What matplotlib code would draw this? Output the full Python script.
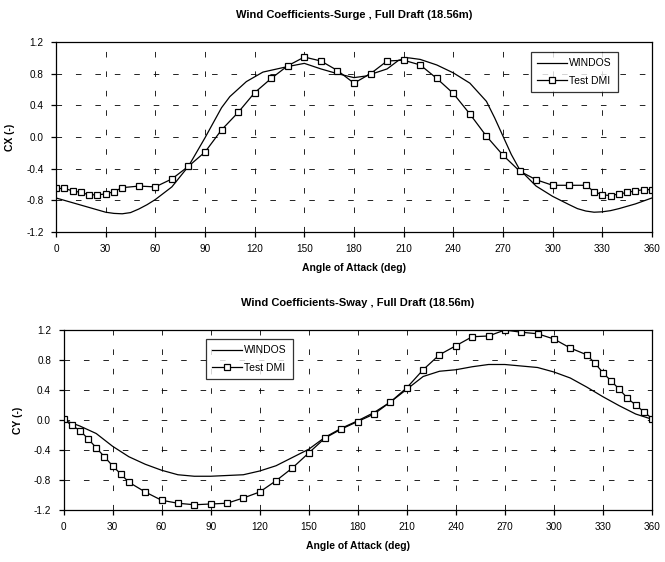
import numpy as np
import matplotlib
matplotlib.use('Agg')
import matplotlib.pyplot as plt

plt.rcParams['font.family'] = ['Liberation Sans', 'DejaVu Sans']
plt.rcParams['lines.scale_dashes'] = False

# Surge (CX)
windos_x_ang = [0, 10, 20, 30, 35, 40, 45, 50, 55, 60, 70, 80, 90, 100, 105, 115, 125, 140, 150, 160, 170,
                180, 187, 200, 207, 213, 220, 230, 240, 250, 260, 265, 270, 275, 280, 290, 300, 310, 315,
                320, 325, 330, 335, 340, 350, 360]
windos_x = [-0.77, -0.83, -0.89, -0.95, -0.965, -0.97, -0.955, -0.91, -0.855, -0.79, -0.63, -0.37, -0.01,
            0.37, 0.51, 0.70, 0.82, 0.89, 0.93, 0.86, 0.80, 0.75, 0.77, 0.86, 0.97, 1.00, 0.98, 0.91, 0.81,
            0.68, 0.45, 0.24, 0.01, -0.22, -0.41, -0.62, -0.75, -0.855, -0.905, -0.935, -0.95, -0.945,
            -0.93, -0.905, -0.845, -0.77]

dmi_ang = [0, 5, 10, 15, 20, 25, 30, 35, 40, 50, 60, 70, 80, 90, 100, 110, 120, 130, 140, 150, 160, 170,
           180, 190, 200, 210, 220, 230, 240, 250, 260, 270, 280, 290, 300, 310, 320, 325, 330, 335, 340,
           345, 350, 355, 360]
dmi_x = [-0.65, -0.65, -0.68, -0.70, -0.73, -0.73, -0.72, -0.69, -0.64, -0.62, -0.63, -0.53, -0.37, -0.19,
         0.09, 0.31, 0.56, 0.74, 0.90, 1.01, 0.96, 0.84, 0.68, 0.80, 0.96, 0.97, 0.91, 0.74, 0.55, 0.29,
         0.01, -0.23, -0.43, -0.54, -0.61, -0.61, -0.61, -0.69, -0.73, -0.74, -0.72, -0.70, -0.68, -0.665,
         -0.665]

# Sway (CY)
windos_y_ang = list(range(0, 361, 10))
windos_y = [0.0, -0.08, -0.18, -0.35, -0.49, -0.59, -0.67, -0.73, -0.75, -0.75, -0.74, -0.73, -0.68, -0.61,
            -0.50, -0.39, -0.23, -0.11, -0.01, 0.10, 0.24, 0.41, 0.58, 0.65, 0.67, 0.71, 0.74, 0.74, 0.72,
            0.70, 0.64, 0.56, 0.44, 0.31, 0.19, 0.08, 0.01]
dmi_y = [0.01, -0.07, -0.14, -0.25, -0.37, -0.49, -0.61, -0.72, -0.83, -0.96, -1.07, -1.11, -1.13, -1.12,
         -1.11, -1.04, -0.96, -0.81, -0.64, -0.44, -0.24, -0.12, -0.02, 0.08, 0.24, 0.43, 0.67, 0.87, 0.99,
         1.11, 1.12, 1.20, 1.17, 1.15, 1.08, 0.96, 0.87, 0.76, 0.63, 0.52, 0.41, 0.29, 0.20, 0.11, 0.02]

x_ticks = list(range(0, 361, 30))
y_ticks = [-1.2, -0.8, -0.4, 0.0, 0.4, 0.8, 1.2]

W, H = 665, 562
fig = plt.figure(figsize=(W / 100, H / 100), dpi=100)


def make_axes(left, top, right, bottom):
    return fig.add_axes([left / W, 1 - bottom / H, (right - left) / W, (bottom - top) / H])


def draw(ax, ang1, v1, ang2, v2, title, ylab, leg_xy):
    ax.plot(ang1, v1, color='black', lw=0.9, label='WINDOS')
    ax.plot(ang2, v2, color='black', lw=0.9, marker='s', markersize=5, markerfacecolor='white',
            markeredgecolor='black', markeredgewidth=0.9, label='Test DMI')
    ax.set_xlim(0, 360)
    ax.set_ylim(-1.2, 1.2)
    ax.set_xticks(x_ticks)
    ax.set_yticks(y_ticks)
    ax.set_yticklabels(['%.1f' % v for v in y_ticks])
    ax.tick_params(direction='out', length=3.5, width=0.9, labelsize=7.2, pad=5.5)
    ax.grid(True, color='black', lw=0.6, linestyle=(0, (4, 10)))
    for s in ax.spines.values():
        s.set_linewidth(0.9)
    ax.set_title(title, fontsize=8, fontweight='bold', pad=17)
    ax.set_xlabel('Angle of Attack (deg)', fontsize=7.5, fontweight='bold', labelpad=6)
    ax.set_ylabel(ylab, fontsize=7.5, fontweight='bold', labelpad=8)
    leg = ax.legend(loc='upper left', bbox_to_anchor=(leg_xy[0] / W, 1 - leg_xy[1] / H),
                    bbox_transform=fig.transFigure, fontsize=7.5, frameon=True, fancybox=False,
                    edgecolor='black', handlelength=2.9, handletextpad=0.15, borderpad=0.6,
                    labelspacing=0.75, borderaxespad=0)
    leg.get_frame().set_linewidth(0.9)


ax1 = make_axes(56, 42, 652, 232)
draw(ax1, windos_x_ang, windos_x, dmi_ang, dmi_x,
     'Wind Coefficients-Surge , Full Draft (18.56m)', 'CX (-)', (531, 52))

ax2 = make_axes(63.5, 330, 652, 510)
draw(ax2, windos_y_ang, windos_y, dmi_ang, dmi_y,
     'Wind Coefficients-Sway , Full Draft (18.56m)', 'CY (-)', (206, 339))

plt.savefig('out.png', dpi=100)
